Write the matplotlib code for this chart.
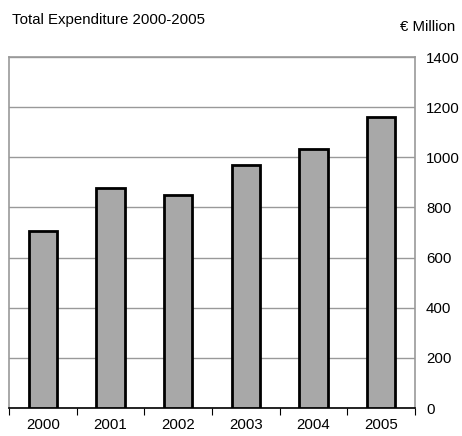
import matplotlib.pyplot as plt
import numpy as np

years = ["2000", "2001", "2002", "2003", "2004", "2005"]
spend = [705, 878, 848, 970, 1035, 1162]
yticks = [0, 200, 400, 600, 800, 1000, 1200, 1400]

plt.rcParams['font.family'] = ['Liberation Sans', 'DejaVu Sans']
plt.rcParams['font.size'] = 10.8

fig = plt.figure(figsize=(4.62, 4.36), dpi=100)
ax = fig.add_axes([9/462, 28/436, 406/462, 351/436])

x = np.arange(len(years))
ax.bar(x, spend, width=0.42, color="#a8a8a8", edgecolor="black", linewidth=2, zorder=3)

ax.set_xlim(-0.5, len(years) - 0.5)
ax.set_ylim(0, 1400)
ax.set_yticks(yticks)
ax.yaxis.tick_right()
ax.tick_params(axis='y', length=0, pad=8)
ax.grid(axis='y', color="#999999", linewidth=1, zorder=0)

# year labels centred, tick marks on the category boundaries
ax.set_xticks(np.arange(-0.5, len(years), 1))
ax.set_xticklabels([])
ax.set_xticks(x, minor=True)
ax.set_xticklabels(years, minor=True)
ax.tick_params(axis='x', which='major', length=5, color="black", direction='out')
ax.tick_params(axis='x', which='minor', length=0, pad=7)

for s in ax.spines.values():
    s.set_color("#999999")
    s.set_linewidth(1.2)
ax.spines['bottom'].set_color("black")

fig.text(12/462, 1 - 20/436, "Total Expenditure 2000-2005", ha='left', va='center')
fig.text(455/462, 1 - 27/436, "€ Million", ha='right', va='center')

fig.savefig("out.png", dpi=100)
